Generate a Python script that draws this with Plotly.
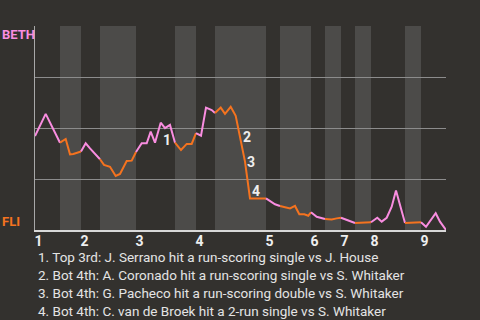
import plotly.graph_objects as go

# Game progress (play units) and BETH win probability
play_x = [0, 2.14, 5.0, 6.14, 7.0, 7.66, 9.2, 10.14, 11.0, 12.0, 13.0, 13.8, 15.0, 16.14, 17.0,
          18.34, 19.34, 20.2, 21.34, 22.34, 23.14, 24.0, 25.14, 26.0, 27.0, 28.0, 29.2, 30.34,
          31.34, 32.2, 33.2, 34.2, 35.34, 36.0, 37.14, 38.0, 39.14, 40.14, 41.14, 42.0, 43.0,
          46.2, 48.0, 49.0, 50.0, 51.0, 52.0, 52.86, 53.86, 54.66, 55.2, 56.34, 58.0, 59.34,
          60.34, 61.2, 62.0, 63.0, 64.0, 65.66, 67.2, 68.46, 69.34, 70.34, 71.34, 72.2, 74.0,
          76.2, 77.2, 78.2, 80.14, 81.0, 82.2]
beth_wp = [0.461, 0.569, 0.428, 0.446, 0.371, 0.373, 0.385, 0.425, 0.400, 0.371, 0.347, 0.319,
           0.310, 0.265, 0.275, 0.338, 0.340, 0.382, 0.425, 0.425, 0.482, 0.428, 0.526, 0.499,
           0.515, 0.428, 0.392, 0.422, 0.422, 0.475, 0.462, 0.600, 0.588, 0.574, 0.600, 0.569,
           0.604, 0.560, 0.441, 0.335, 0.155, 0.155, 0.126, 0.118, 0.111, 0.106, 0.118, 0.077,
           0.077, 0.070, 0.087, 0.065, 0.054, 0.052, 0.057, 0.060, 0.052, 0.041, 0.034, 0.036,
           0.038, 0.060, 0.041, 0.060, 0.114, 0.194, 0.034, 0.036, 0.038, 0.016, 0.082, 0.041,
           0.0]

# Half-inning boundaries (top/bottom alternating), last value = end of game
half_starts = [0, 5.0, 9.2, 13.0, 20.2, 28.0, 32.2, 36.0, 46.2, 49.0, 55.2, 58.0, 61.2,
               64.0, 67.2, 74.0, 77.2, 82.2]
inning_labels = ["1", "2", "3", "4", "5", "6", "7", "8", "9"]

# Key events
event_x = [25.14, 41.14, 42.0, 43.0]
event_labels = ["1", "2", "3", "4"]
event_yshift = [-17, 3, 0, 7]
event_texts = [
    "1. Top 3rd: J. Serrano hit a run-scoring single vs J. House",
    "2. Bot 4th: A. Coronado hit a run-scoring single vs S. Whitaker",
    "3. Bot 4th: G. Pacheco hit a run-scoring double vs S. Whitaker",
    "4. Bot 4th: C. van de Broek hit a 2-run single vs S. Whitaker",
]
away_team, home_team = "BETH", "FLI"

PINK = "#f98de0"
ORANGE = "#f5731f"
BG = "#33312e"
BAND = "#4c4b49"
FONT = "Roboto"

fig = go.Figure()

# Bottom-half shading
shapes = []
for i in range(1, len(half_starts) - 1, 2):
    shapes.append(dict(type="rect", xref="x", yref="y", x0=half_starts[i], x1=half_starts[i + 1],
                       y0=0, y1=1, fillcolor=BAND, line=dict(width=0), layer="below"))

# Line segments per half-inning
eps = 1e-6
for i in range(len(half_starts) - 1):
    a, b = half_starts[i], half_starts[i + 1]
    xs = [x for x in play_x if a - eps <= x <= b + eps]
    ys = [y for x, y in zip(play_x, beth_wp) if a - eps <= x <= b + eps]
    fig.add_trace(go.Scatter(x=xs, y=ys, mode="lines",
                             line=dict(color=PINK if i % 2 == 0 else ORANGE, width=2),
                             hoverinfo="skip", showlegend=False))

annotations = []
for ex, lab, ys in zip(event_x, event_labels, event_yshift):
    ey = beth_wp[play_x.index(ex)]
    annotations.append(dict(x=ex, y=ey, xref="x", yref="y", text="<b>%s</b>" % lab, showarrow=False,
                            xanchor="left", yanchor="middle", yshift=ys,
                            font=dict(family=FONT, size=14, color="#eeeeee")))

annotations.append(dict(x=-35 / 411, y=1, xref="paper", yref="y", text="<b>%s</b>" % away_team,
                        showarrow=False, xanchor="left", yanchor="top", yshift=1,
                        font=dict(family=FONT, size=13, color=PINK)))
annotations.append(dict(x=-35 / 411, y=0, xref="paper", yref="y", text="<b>%s</b>" % home_team,
                        showarrow=False, xanchor="left", yanchor="bottom", yshift=-1,
                        font=dict(family=FONT, size=13, color=ORANGE)))

for k, t in enumerate(event_texts):
    annotations.append(dict(x=1 / 411, y=-27 / 204 - k * 18 / 204, xref="paper", yref="paper",
                            text=t, showarrow=False, xanchor="left", yanchor="middle",
                            font=dict(family=FONT, size=13.5, color="#e4e4e4")))

inning_starts = half_starts[0:-1:2]
tickvals = [s + 0.7 for s in inning_starts]

fig.update_layout(
    width=480, height=320,
    margin=dict(l=35, r=34, t=26, b=90),
    paper_bgcolor=BG, plot_bgcolor=BG,
    shapes=shapes, annotations=annotations,
    xaxis=dict(range=[0, half_starts[-1]], tickvals=tickvals, ticktext=["<b>%s</b>" % l for l in inning_labels],
               showgrid=False, zeroline=False, showline=True, linecolor="#d8d8d8", linewidth=2,
               ticks="", ticklabelstandoff=-3, tickfont=dict(family=FONT, size=14, color="#eeeeee"),
               fixedrange=True),
    yaxis=dict(range=[0, 1], tickvals=[0.25, 0.5, 0.75, 1.0], showticklabels=False,
               showgrid=True, gridcolor="#8c8c8c", gridwidth=1, zeroline=False,
               showline=True, linecolor="#a8a8a8", linewidth=1, ticks="", fixedrange=True),
)

fig.write_html("out.html", config={"displayModeBar": False})
